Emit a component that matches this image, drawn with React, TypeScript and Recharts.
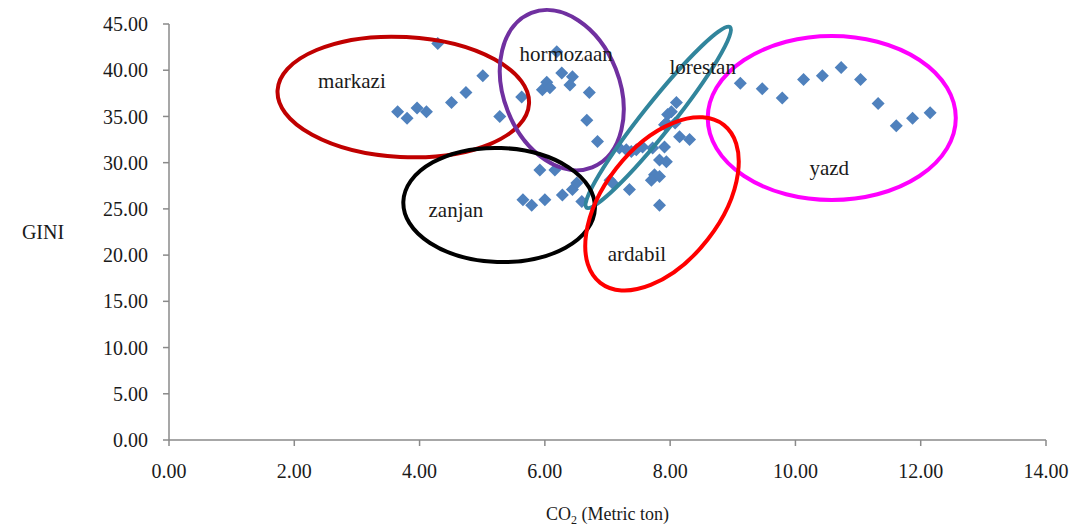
import { ScatterChart, Scatter, XAxis, YAxis, ReferenceArea, ReferenceDot } from "recharts"

// CO2 per capita (metric ton) and GINI
const co2 = [
  3.65, 3.8, 3.96, 4.11, 4.29, 4.51, 4.74, 5.01, 5.28, 5.63,
  5.96, 6.03, 6.08, 6.19, 6.27, 6.4, 6.44, 6.71, 6.67, 6.84,
  5.65, 5.79, 6.0, 5.92, 6.16, 6.28, 6.44, 6.51, 6.59,
  7.04, 7.08, 7.35, 7.19, 7.3, 7.38, 7.46, 7.56, 7.72, 7.83, 7.94, 7.75, 7.83, 7.7, 7.83,
  7.91, 7.94, 7.91, 8.02, 7.96, 8.1, 8.08, 8.15, 8.31,
  9.12, 9.47, 9.79, 10.13, 10.43, 10.73, 11.04, 11.32, 11.61, 11.87, 12.15,
]
const gini = [
  35.5, 34.8, 35.9, 35.5, 42.9, 36.5, 37.6, 39.4, 35.0, 37.1,
  37.9, 38.7, 38.1, 42.0, 39.7, 38.4, 39.3, 37.6, 34.6, 32.3,
  26.0, 25.4, 26.0, 29.2, 29.2, 26.5, 27.1, 27.8, 25.8,
  28.1, 27.8, 27.1, 31.6, 31.4, 31.2, 31.4, 31.7, 31.6, 30.3, 30.1, 28.7, 28.5, 28.1, 25.4,
  31.7, 34.3, 34.1, 35.5, 35.2, 36.5, 34.3, 32.8, 32.5,
  38.6, 38.0, 37.0, 39.0, 39.4, 40.3, 39.0, 36.4, 34.0, 34.8, 35.4,
]

const xTicks = [0, 2, 4, 6, 8, 10, 12, 14]
const yTicks = [0, 5, 10, 15, 20, 25, 30, 35, 40, 45]

// province groupings drawn as ellipses (centre and half-axes in data units)
const regions = [
  { name: "markazi", color: "#C00000", cx: 3.74, cy: 37.1, rx: 2.01, ry: 6.49, angle: 3, lx: 2.92, ly: 38.9 },
  { name: "hormozaan", color: "#7030A0", cx: 6.27, cy: 37.85, rx: 1.325, ry: 6.27, angle: 68.5, lx: 6.34, ly: 41.8 },
  { name: "lorestan", color: "#31859C", cx: 7.81, cy: 34.9, rx: 1.84, ry: 1.62, angle: -51.5, lx: 8.52, ly: 40.35 },
  { name: "yazd", color: "#FF00FF", cx: 10.58, cy: 34.83, rx: 1.98, ry: 8.87, angle: 0, lx: 10.54, ly: 29.5 },
  { name: "zanjan", color: "#000000", cx: 5.27, cy: 25.42, rx: 1.53, ry: 6.17, angle: 2, lx: 4.58, ly: 24.9 },
  { name: "ardabil", color: "#FF0000", cx: 7.87, cy: 25.54, rx: 1.6, ry: 6.27, angle: -52, lx: 7.47, ly: 20.2 },
]

const data = co2.map((x, i) => ({ co2: x, gini: gini[i] }))

const FONT = "'Liberation Serif', 'Times New Roman', serif"
const AXIS = "#8a8a8a"

const Diamond = (props: any) => {
  const { cx, cy } = props
  const r = 6.5
  return <polygon points={`${cx},${cy - r} ${cx + r},${cy} ${cx},${cy + r} ${cx - r},${cy}`} fill="#4F81BD" />
}

const ellipseShape = (color: string, angle: number) => (props: any) => {
  const { x, y, width, height } = props
  const w = Math.abs(width)
  const h = Math.abs(height)
  const ex = Math.min(x, x + width) + w / 2
  const ey = Math.min(y, y + height) + h / 2
  return (
    <ellipse
      cx={ex}
      cy={ey}
      rx={w / 2}
      ry={h / 2}
      transform={`rotate(${angle} ${ex} ${ey})`}
      fill="none"
      stroke={color}
      strokeWidth={4}
    />
  )
}

const nameShape = (name: string) => (props: any) => (
  <text x={props.cx} y={props.cy} dy="0.35em" textAnchor="middle" fontFamily={FONT} fontSize={21} fill="#1a1a1a">
    {name}
  </text>
)

const XLabel = (props: any) => {
  const vb = props.viewBox
  return (
    <text x={vb.x + vb.width / 2} y={vb.y + 80} textAnchor="middle" fontFamily={FONT} fontSize={18} fill="#1a1a1a">
      CO
      <tspan fontSize={12} dy={4}>2</tspan>
      <tspan dy={-4}> (Metric ton)</tspan>
    </text>
  )
}

const YLabel = (props: any) => {
  const vb = props.viewBox
  return (
    <text x={vb.x + 43} y={vb.y + vb.height / 2} dy="0.35em" textAnchor="middle" fontFamily={FONT} fontSize={20} fill="#1a1a1a">
      GINI
    </text>
  )
}

const tickStyle = { fontFamily: FONT, fontSize: 20, fill: "#1a1a1a", style: { fontFamily: FONT } }

export default function App() {
  return (
    <div style={{ position: "absolute", left: 0, top: 0, width: 1075, height: 526, background: "#fff", fontFamily: FONT }}>
      <ScatterChart width={1075} height={526} margin={{ top: 24, right: 29, bottom: 0, left: 0 }} style={{ fontFamily: FONT }}>
        <XAxis
          type="number"
          dataKey="co2"
          domain={[0, 14]}
          ticks={xTicks}
          tickFormatter={(v: number) => v.toFixed(2)}
          height={86}
          tickSize={6}
          tickMargin={18}
          stroke={AXIS}
          strokeWidth={1.5}
          tick={tickStyle}
          label={(p: any) => <XLabel {...p} />}
        />
        <YAxis
          type="number"
          dataKey="gini"
          domain={[0, 45]}
          ticks={yTicks}
          tickFormatter={(v: number) => v.toFixed(2)}
          width={169}
          tickSize={6}
          tickMargin={15}
          stroke={AXIS}
          strokeWidth={1.5}
          tick={tickStyle}
          label={(p: any) => <YLabel {...p} />}
        />
        <Scatter data={data} shape={<Diamond />} isAnimationActive={false} />
        {regions.map((r) => (
          <ReferenceArea
            key={r.name}
            x1={r.cx - r.rx}
            x2={r.cx + r.rx}
            y1={r.cy - r.ry}
            y2={r.cy + r.ry}
            ifOverflow="visible"
            zIndex={700}
            shape={ellipseShape(r.color, r.angle)}
          />
        ))}
        {regions.map((r) => (
          <ReferenceDot
            key={`lbl-${r.name}`}
            x={r.lx}
            y={r.ly}
            ifOverflow="visible"
            zIndex={800}
            shape={nameShape(r.name)}
          />
        ))}
      </ScatterChart>
    </div>
  )
}
